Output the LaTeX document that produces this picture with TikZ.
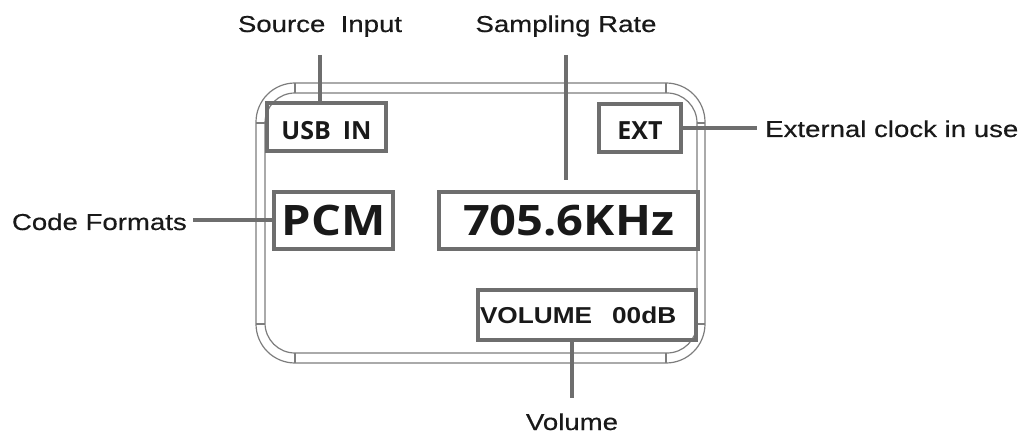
\documentclass[tikz,border=0pt]{standalone}
\usepackage{fontspec}
\setmainfont{Liberation Sans}
\newfontfamily\calloutfont[FakeStretch=1.2, FakeBold=0.5]{Liberation Sans}
\newfontfamily\lcdfont{Open Sans}
\newfontfamily\lcdwidefont[FakeStretch=1.12]{Open Sans}
\newfontfamily\volfont[FakeStretch=1.14]{Liberation Sans}
\usetikzlibrary{calc}
\definecolor{LCDGray}{RGB}{110,110,110}
\definecolor{FrameGray}{RGB}{125,125,125}
\definecolor{InkBlack}{RGB}{25,25,25}

\begin{document}
\begin{tikzpicture}[x=1pt, y=-1pt,
  lcdbox/.style={draw=LCDGray, line width=4pt, inner sep=0pt, text=InkBlack},
  callout/.style={font=\calloutfont\fontsize{23}{26}\selectfont, text=InkBlack, inner sep=0pt},
  leader/.style={draw=LCDGray, line width=4pt},
  rim/.style={draw=FrameGray, line width=1.2pt}]
  \useasboundingbox (0,0) rectangle (1027,438);
  % display frame
  \draw[rim, rounded corners=39pt] (256,83) rectangle (705,363);
  \draw[rim, rounded corners=30pt] (265,93) rectangle (697,353);
  \foreach \x in {295,666} {
    \draw[rim] (\x,83) -- (\x,93);
    \draw[rim] (\x,353) -- (\x,363);
  }
  \foreach \y in {123,324} {
    \draw[rim] (256,\y) -- (265,\y);
    \draw[rim] (697,\y) -- (705,\y);
  }
  % display fields
  \node[lcdbox, minimum width=119pt, minimum height=48pt, text height=26pt, text depth=0pt,
        font=\lcdfont\bfseries\fontsize{25}{28}\selectfont] (usb) at (326.5,127) {USB\hspace{12pt}IN};
  \node[lcdbox, minimum width=82pt, minimum height=48pt, text height=24pt, text depth=0pt,
        font=\lcdfont\bfseries\fontsize{25}{28}\selectfont] (ext) at (640,128) {EXT};
  \node[lcdbox, minimum width=119pt, minimum height=57pt, font=\lcdwidefont\bfseries\fontsize{42}{46}\selectfont] (pcm) at (333.5,220.5) {PCM};
  \node[lcdbox, minimum width=259pt, minimum height=57pt, font=\lcdwidefont\bfseries\fontsize{42}{46}\selectfont] (rate) at (568.5,220.5) {705.6KHz};
  \node[lcdbox, minimum width=218pt, minimum height=50pt, text width=214pt, align=left,
        font=\volfont\bfseries\fontsize{23}{26}\selectfont] (vol) at (587,315) {VOLUME\hspace{20pt}00dB};
  % callouts
  \node[callout, anchor=base] (srclabel) at (320,32) {Source\ \ Input};
  \node[callout, anchor=base] (ratelabel) at (566,32) {Sampling Rate};
  \node[callout, anchor=base west] (extlabel) at (765,137) {External clock in use};
  \node[callout, anchor=base east] (codelabel) at (187,230) {Code Formats};
  \node[callout, anchor=base] (vollabel) at (572,430) {Volume};
  \draw[leader, shorten <=23pt] (srclabel.base) -- (srclabel.base |- usb.north);
  \draw[leader, shorten <=23pt, shorten >=10pt] (ratelabel.base) -- (ratelabel.base |- rate.north);
  \draw[leader, shorten >=8pt] (ext.east) -- (ext.east -| extlabel.west);
  \draw[leader, shorten <=6pt] (codelabel.east |- pcm.west) -- (pcm.west);
  \draw[leader, shorten >=15pt] (vollabel.north |- vol.south) -- (vollabel.north);
\end{tikzpicture}
\end{document}
